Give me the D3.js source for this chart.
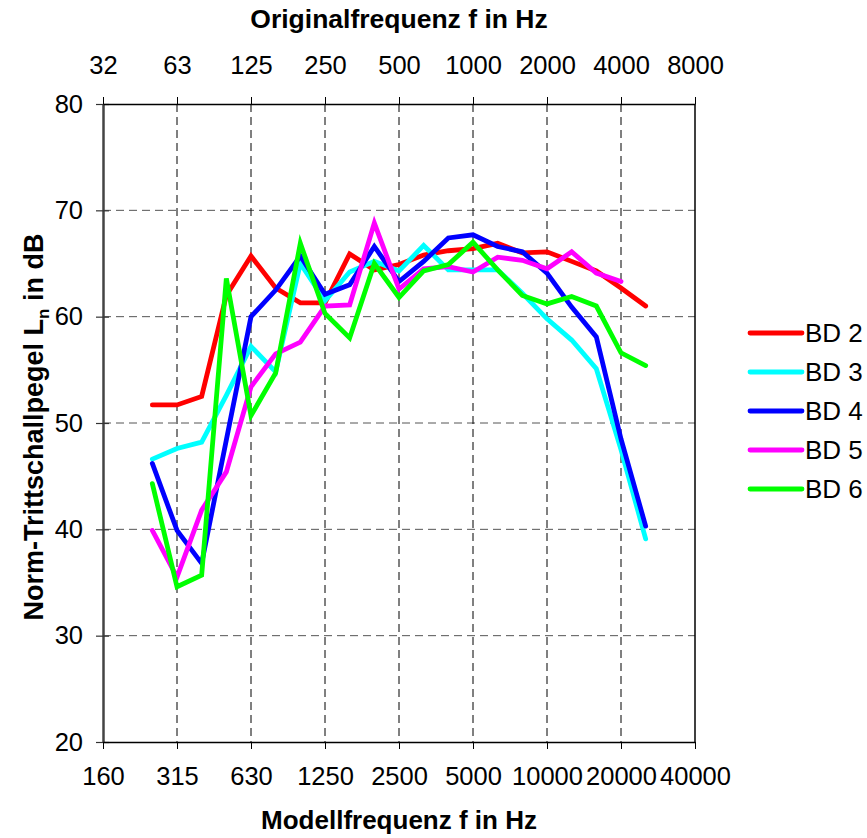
<!DOCTYPE html>
<html><head><meta charset="utf-8">
<script src="https://cdn.jsdelivr.net/npm/d3@7"></script>
<style>
html,body{margin:0;padding:0;background:#fff;}
text{font-family:"Liberation Sans",Arial,sans-serif;fill:#000;}
</style></head>
<body><svg id="chart" width="867" height="838"></svg>
<script>
// third-octave bands of the model frequency axis
const bands = ["160","200","250","315","400","500","630","800","1000","1250","1600","2000","2500","3150","4000","5000","6300","8000","10000","12500","16000","20000","25000","31500","40000"];
const bottomTicks = ["160","315","630","1250","2500","5000","10000","20000","40000"];
const topTicks = ["32","63","125","250","500","1000","2000","4000","8000"];
const yTicks = [20,30,40,50,60,70,80];
const dataFreqs = ["250","315","400","500","630","800","1000","1250","1600","2000","2500","3150","4000","5000","6300","8000","10000","12500","16000","20000","25000"];

const seriesNames = ["BD 2","BD 3","BD 4","BD 5","BD 6"];
const seriesColors = ["#ff0000","#00ffff","#0000ff","#ff00ff","#00ff00"];
const bd2 = [51.7,51.7,52.5,62.0,65.7,62.7,61.3,61.3,65.9,64.4,64.9,65.8,66.2,66.4,66.9,66.0,66.1,65.2,64.3,62.7,61.0];
const bd3 = [46.6,47.6,48.2,52.6,57.2,54.8,65.0,61.5,64.2,65.2,64.3,66.7,64.4,64.4,64.4,62.2,59.8,57.8,55.1,47.5,39.1];
const bd4 = [46.2,39.9,36.8,48.4,60.0,62.5,65.7,62.1,63.0,66.6,63.3,65.2,67.4,67.7,66.6,66.1,64.1,60.9,58.1,48.5,40.3];
const bd5 = [39.9,35.5,41.8,45.4,53.4,56.5,57.6,61.0,61.1,68.8,62.6,64.5,64.7,64.2,65.6,65.3,64.5,66.1,64.1,63.3];
const bd6 = [44.3,34.6,35.7,63.6,50.7,54.7,66.9,60.3,58.0,65.0,61.8,64.3,64.9,67.0,64.4,62.0,61.2,61.9,61.0,56.6,55.4];
const seriesValues = [bd2,bd3,bd4,bd5,bd6];

const svg = d3.select("#chart");
const L = 103, R = 695, T = 104, B = 742;
const x = d3.scalePoint().domain(bands).range([L, R]).padding(0);
const y = d3.scaleLinear().domain([20, 80]).range([B, T]);

// gridlines
const grid = svg.append("g");
grid.selectAll("line.hg").data(yTicks.filter(v => v !== 20 && v !== 80)).enter().append("line")
  .attr("x1", L).attr("x2", R).attr("y1", d => y(d)).attr("y2", d => y(d))
  .attr("stroke", "#555").attr("stroke-width", 1).attr("stroke-dasharray", "8,5");
grid.selectAll("line.vg").data(bottomTicks.slice(1, -1)).enter().append("line")
  .attr("x1", d => x(d)).attr("x2", d => x(d)).attr("y1", T).attr("y2", B)
  .attr("stroke", "#000").attr("stroke-width", 1).attr("stroke-dasharray", "8,5");

// frame
svg.append("line").attr("x1", R).attr("x2", R).attr("y1", T).attr("y2", B).attr("stroke", "#000").attr("stroke-width", 1.5);

// axes
const fs = "25.5px";
const ff = '"Liberation Sans",Arial,sans-serif';
const yAxis = svg.append("g").attr("transform", `translate(${L},0)`)
  .call(d3.axisLeft(y).tickValues(yTicks).tickSizeInner(6).tickSizeOuter(0).tickPadding(14));
yAxis.selectAll(".tick line").attr("x2", 6).attr("x1", -7).attr("stroke", "#333").attr("stroke-width", 1.2);
yAxis.select(".domain").attr("stroke", "#444").attr("stroke-width", 2.5);
yAxis.selectAll("text").style("font-size", fs).style("font-family", ff);

const xBottom = svg.append("g").attr("transform", `translate(0,${B})`)
  .call(d3.axisBottom(x).tickValues(bottomTicks).tickSizeInner(7).tickSizeOuter(0).tickPadding(18));
xBottom.select(".domain").attr("stroke", "#000").attr("stroke-width", 1.5);
xBottom.selectAll(".tick line").attr("stroke", "#000");
xBottom.selectAll("text").style("font-size", fs).style("font-family", ff);

const xTop = svg.append("g").attr("transform", `translate(0,${T})`)
  .call(d3.axisTop(x).tickValues(bottomTicks).tickFormat((d, i) => topTicks[i]).tickSizeInner(7).tickSizeOuter(0).tickPadding(23));
xTop.select(".domain").attr("stroke", "#000").attr("stroke-width", 1.5);
xTop.selectAll(".tick line").attr("stroke", "#000");
xTop.selectAll("text").style("font-size", fs).style("font-family", ff);

// series lines
const line = d3.line().x(d => x(d.f)).y(d => y(d.v));
seriesValues.forEach((vals, s) => {
  const pts = vals.map((v, i) => ({f: dataFreqs[i], v}));
  svg.append("path").datum(pts).attr("d", line)
    .attr("fill", "none").attr("stroke", seriesColors[s]).attr("stroke-width", 4.8)
    .attr("stroke-linejoin", "miter").attr("stroke-linecap", "round");
});

// titles
svg.append("text").attr("x", (L + R) / 2).attr("y", 28).attr("text-anchor", "middle")
  .style("font-size", "26.5px").style("font-weight", "bold").text("Originalfrequenz f in Hz");
svg.append("text").attr("x", (L + R) / 2).attr("y", 829).attr("text-anchor", "middle")
  .style("font-size", "26px").style("font-weight", "bold").text("Modellfrequenz f in Hz");
const yt = svg.append("text").attr("transform", `translate(43,427) rotate(-90)`)
  .attr("text-anchor", "middle").style("font-size", "27px").style("font-weight", "bold");
yt.append("tspan").text("Norm-Trittschallpegel L");
yt.append("tspan").attr("dy", 6).style("font-size", "17px").text("n");
yt.append("tspan").attr("dy", -6).text(" in dB");

// legend
const leg = svg.append("g");
seriesNames.forEach((n, i) => {
  const ly = 333 + i * 39;
  leg.append("line").attr("x1", 750).attr("x2", 802).attr("y1", ly).attr("y2", ly)
    .attr("stroke", seriesColors[i]).attr("stroke-width", 4.8).attr("stroke-linecap", "round");
  leg.append("text").attr("x", 805).attr("y", ly + 9).style("font-size", "26px").text(n);
});
</script></body></html>
